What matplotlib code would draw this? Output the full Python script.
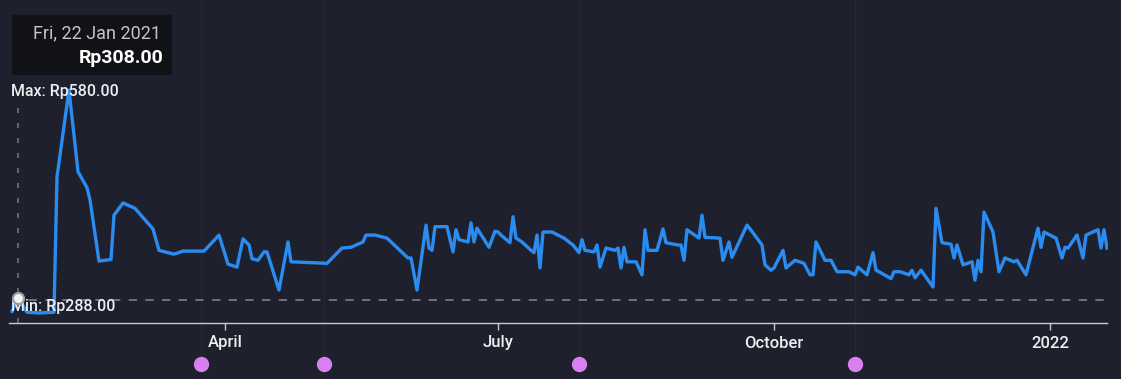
import matplotlib
matplotlib.use("Agg")
import matplotlib.pyplot as plt
import matplotlib.dates as mdates
import matplotlib.transforms as mtransforms
import pandas as pd

plt.rcParams["font.family"] = ["Roboto", "DejaVu Sans"]

# daily close prices (Rp)
dates = [
    "2021-01-20", "2021-01-22", "2021-01-25", "2021-01-29", "2021-02-03", "2021-02-04",
    "2021-02-08", "2021-02-11", "2021-02-14", "2021-02-15", "2021-02-18", "2021-02-22",
    "2021-02-23", "2021-02-26", "2021-03-02", "2021-03-08", "2021-03-10", "2021-03-15",
    "2021-03-18", "2021-03-25", "2021-03-30", "2021-04-02", "2021-04-05", "2021-04-07",
    "2021-04-09", "2021-04-10", "2021-04-12", "2021-04-14", "2021-04-15", "2021-04-19",
    "2021-04-22", "2021-04-23", "2021-05-05", "2021-05-10", "2021-05-13", "2021-05-17",
    "2021-05-18", "2021-05-21", "2021-05-25", "2021-06-01", "2021-06-02", "2021-06-04",
    "2021-06-07", "2021-06-08", "2021-06-09", "2021-06-10", "2021-06-14", "2021-06-16",
    "2021-06-17", "2021-06-18", "2021-06-21", "2021-06-22", "2021-06-23", "2021-06-24",
    "2021-06-28", "2021-06-30", "2021-07-01", "2021-07-02", "2021-07-05", "2021-07-06",
    "2021-07-07", "2021-07-09", "2021-07-12", "2021-07-13", "2021-07-14", "2021-07-15",
    "2021-07-16", "2021-07-19", "2021-07-21", "2021-07-23", "2021-07-26", "2021-07-28",
    "2021-07-29", "2021-07-30", "2021-08-02", "2021-08-03", "2021-08-04", "2021-08-06",
    "2021-08-09", "2021-08-10", "2021-08-11", "2021-08-12", "2021-08-13", "2021-08-16",
    "2021-08-18", "2021-08-19", "2021-08-20", "2021-08-23", "2021-08-25", "2021-08-26",
    "2021-08-30", "2021-08-31", "2021-09-01", "2021-09-02", "2021-09-06", "2021-09-07",
    "2021-09-08", "2021-09-13", "2021-09-14", "2021-09-16", "2021-09-17", "2021-09-20",
    "2021-09-21", "2021-09-22", "2021-09-24", "2021-09-27", "2021-09-28", "2021-09-30",
    "2021-10-01", "2021-10-04", "2021-10-05", "2021-10-08", "2021-10-11", "2021-10-13",
    "2021-10-14", "2021-10-15", "2021-10-18", "2021-10-20", "2021-10-22", "2021-10-26",
    "2021-10-28", "2021-10-29", "2021-11-01", "2021-11-03", "2021-11-04", "2021-11-05",
    "2021-11-09", "2021-11-10", "2021-11-12", "2021-11-15", "2021-11-16", "2021-11-17",
    "2021-11-19", "2021-11-23", "2021-11-24", "2021-11-26", "2021-11-29", "2021-11-30",
    "2021-12-01", "2021-12-03", "2021-12-06", "2021-12-07", "2021-12-08", "2021-12-09",
    "2021-12-10", "2021-12-13", "2021-12-15", "2021-12-17", "2021-12-20", "2021-12-21",
    "2021-12-24", "2021-12-28", "2021-12-29", "2021-12-30", "2022-01-03", "2022-01-05",
    "2022-01-06", "2022-01-07", "2022-01-10", "2022-01-12", "2022-01-13", "2022-01-17",
    "2022-01-18", "2022-01-19", "2022-01-20",
]
prices = [
    290, 308, 289, 288, 289, 466,
    580, 473, 452, 436, 356, 358,
    416, 432, 425, 398, 370, 365,
    369, 369, 390, 352, 348, 385,
    377, 359, 357, 368, 368, 318,
    381, 355, 353, 373, 374, 381,
    390, 390, 386, 360, 360, 318,
    403, 373, 370, 401, 401, 368,
    397, 384, 381, 406, 381, 399,
    374, 395, 394, 390, 380, 414,
    386, 381, 370, 367, 390, 347,
    394, 394, 390, 386, 377, 367,
    384, 370, 368, 377, 348, 373,
    370, 373, 347, 374, 355, 355,
    338, 397, 370, 370, 398, 380,
    377, 377, 357, 397, 386, 416,
    387, 386, 357, 381, 361, 386,
    394, 403, 393, 377, 351, 344,
    347, 370, 347, 357, 353, 338,
    338, 381, 357, 357, 342, 342,
    338, 348, 338, 367, 344, 342,
    333, 342, 342, 338, 344, 334,
    344, 322, 425, 380, 378, 360,
    377, 351, 355, 331, 357, 342,
    420, 394, 342, 360, 355, 357,
    338, 399, 374, 394, 386, 360,
    374, 373, 390, 360, 390, 397,
    373, 397, 373,
]

event_dates = ["2021-03-24", "2021-05-04", "2021-07-28", "2021-10-28"]

hover_date = "2021-01-22"
hover_price = 308

tick_dates = ["2021-04-01", "2021-07-01", "2021-10-01", "2022-01-01"]
tick_labels = ["April", "July", "October", "2022"]

BG = "#1e212d"
LINE = "#2a8cf0"
AXIS = "#c9ccd2"

d = pd.to_datetime(dates)
p = pd.Series(prices, index=d)

fig = plt.figure(figsize=(11.21, 3.79), dpi=100, facecolor=BG)
ax = fig.add_axes([10 / 1121, 56 / 379, 1098 / 1121, 323 / 379])
ax.set_facecolor(BG)

ax.set_xlim(pd.Timestamp("2021-01-19 08:00"), pd.Timestamp("2022-01-20 08:00"))
ax.set_ylim(274.9, 697.7)

# faint event guides + event markers under the axis
ev = pd.to_datetime(event_dates)
bt = mtransforms.blended_transform_factory(ax.transData, ax.transAxes)
for e in ev:
    ax.plot([e, e], [-0.127, 1.0], transform=bt, color="#242835", lw=1,
            clip_on=False, zorder=1)
ax.plot(ev, [-0.127] * len(ev), "o", transform=bt, ms=10, color="#d97ff2",
        clip_on=False, zorder=5)

# price line
ax.plot(p.index, p.values, color=LINE, lw=2.4, zorder=3, solid_joinstyle="round")

# min reference line (sits a little above the lowest point)
pmin, pmax = p.min(), p.max()
off = mtransforms.offset_copy(ax.transData, fig=fig, x=0, y=13, units="dots")
ax.plot([p.index[0], p.index[-1]], [pmin, pmin], transform=off, color="#7c7f88",
        lw=1.2, dashes=(5, 5), zorder=2)
lbl = dict(color="#eceef1", fontsize=11.5, fontweight="medium", va="center",
           ha="left", zorder=6)
ax.text(pd.Timestamp("2021-01-20"), pmin, f"Min: Rp{pmin:.2f}",
        transform=mtransforms.offset_copy(ax.transData, fig=fig, x=-1, y=6, units="dots"),
        **lbl)
ax.text(pd.Timestamp("2021-01-20"), pmax, f"Max: Rp{pmax:.2f}",
        transform=mtransforms.offset_copy(ax.transData, fig=fig, x=-1, y=-2, units="dots"),
        **lbl)

# hover crosshair + marker
hd = pd.Timestamp(hover_date)
ax.plot([hd, hd], [0, 0.69], transform=bt, color="#6d717c", lw=1.2,
        dashes=(3, 6), zorder=2)
ax.plot([hd], [hover_price], "o", ms=8, color="#f2f2f2", mec="#9a9da5",
        mew=1.5, zorder=6)

# tooltip
fig.patches.append(plt.Rectangle((12 / 1121, 1 - 75 / 379), 160 / 1121, 60 / 379,
                                 transform=fig.transFigure, facecolor="#101216",
                                 edgecolor="none", zorder=10))
fig.text(161 / 1121, 1 - 33 / 379, hd.strftime("%a, %d %b %Y"), color="#c4c6cc",
         fontsize=13, ha="right", va="center", zorder=11)
fig.text(163 / 1121, 1 - 58 / 379, f"Rp{hover_price:.2f}", color="#ffffff",
         fontsize=14, fontweight="bold", ha="right", va="center", zorder=11)

# axes styling
for s in ["top", "right", "left"]:
    ax.spines[s].set_visible(False)
ax.spines["bottom"].set_color(AXIS)
ax.spines["bottom"].set_linewidth(1)
ax.spines["bottom"].set_bounds(mdates.date2num(p.index[0] - pd.Timedelta(days=1)),
                               mdates.date2num(p.index[-1]))
ax.set_yticks([])
ax.set_xticks(pd.to_datetime(tick_dates))
ax.set_xticklabels(tick_labels, fontweight="medium")
ax.tick_params(axis="x", colors=AXIS, length=5, width=1, pad=4, labelsize=12,
               labelcolor="#eeeff1")

fig.savefig("out.png", dpi=100, facecolor=BG)
